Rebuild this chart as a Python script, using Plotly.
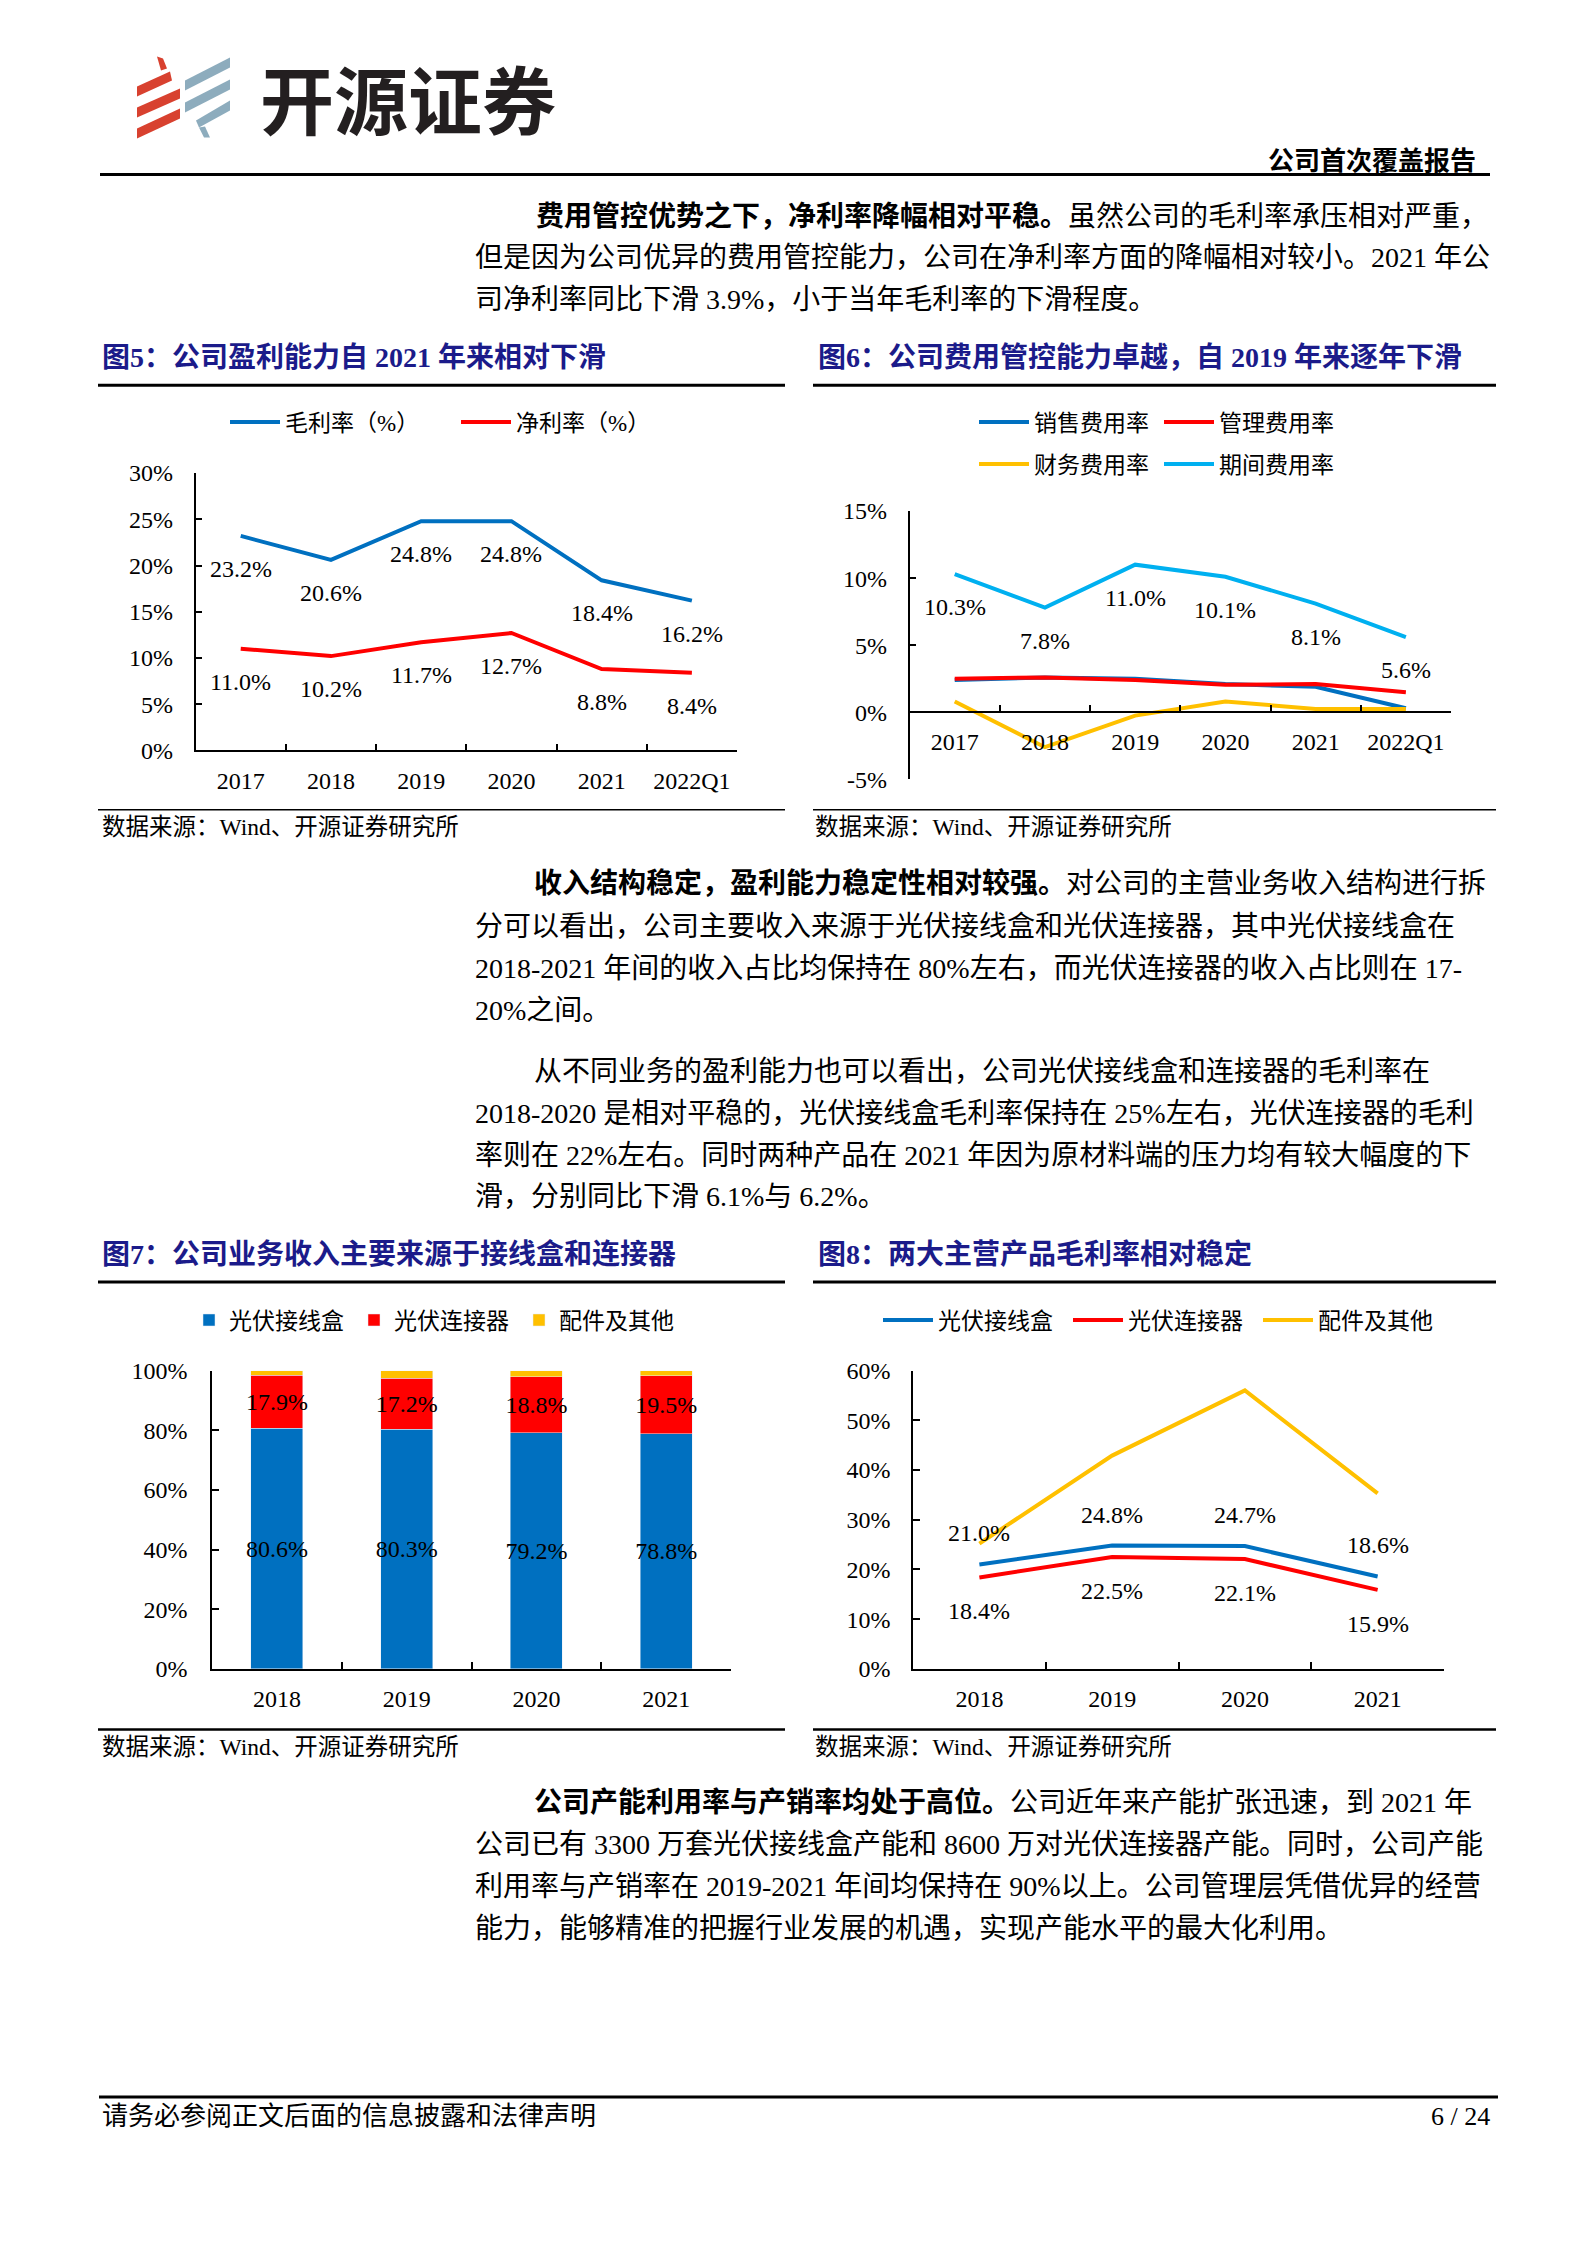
import plotly.graph_objects as go

W, H = 1587, 2245


def fx(px):
    return px / W


def fy(py):
    # page pixel (from top) -> paper fraction, with a small calibration
    py = (py - 13.4) / 0.9896
    return 1 - py / H


SERIF = "Liberation Serif, Noto Sans CJK SC, serif"
CJK = "Noto Sans CJK SC"
NAVY = "#1B1B8A"
BLUE = "#0070C0"
RED = "#FF0000"
YELLOW = "#FFC000"
LBLUE = "#00B0F0"

# ---------------- data ----------------
years_a = ["2017", "2018", "2019", "2020", "2021", "2022Q1"]
gross_margin = [23.2, 20.6, 24.8, 24.8, 18.4, 16.2]
net_margin = [11.0, 10.2, 11.7, 12.7, 8.8, 8.4]

selling_rate = [2.4, 2.6, 2.5, 2.1, 1.9, 0.3]
admin_rate = [2.5, 2.6, 2.4, 2.05, 2.1, 1.5]
finance_rate = [0.8, -2.6, -0.25, 0.8, 0.25, 0.25]
period_rate = [10.3, 7.8, 11.0, 10.1, 8.1, 5.6]
rate_ticks = [-5, 0, 5, 10, 15]
rate_ticklabels = ["-5%", "0%", "5%", "10%", "15%"]

years_b = ["2018", "2019", "2020", "2021"]
share_jbox = [80.6, 80.3, 79.2, 78.8]
share_conn = [17.9, 17.2, 18.8, 19.5]
share_other = [1.5, 2.5, 2.0, 1.7]

gm_jbox = [21.0, 24.8, 24.7, 18.6]
gm_conn = [18.4, 22.5, 22.1, 15.9]
gm_other = [25.2, 42.9, 56.0, 35.3]

fig = go.Figure()

# ---------------- chart 5 ----------------
fig.add_trace(go.Scatter(x=years_a, y=gross_margin, mode="lines", name="毛利率（%）",
                         line=dict(color=BLUE, width=4), xaxis="x", yaxis="y", legend="legend"))
fig.add_trace(go.Scatter(x=years_a, y=net_margin, mode="lines", name="净利率（%）",
                         line=dict(color=RED, width=4), xaxis="x", yaxis="y", legend="legend"))

# ---------------- chart 6 ----------------
fig.add_trace(go.Scatter(x=years_a, y=selling_rate, mode="lines", name="销售费用率",
                         line=dict(color=BLUE, width=4), xaxis="x2", yaxis="y2", legend="legend2"))
fig.add_trace(go.Scatter(x=years_a, y=admin_rate, mode="lines", name="管理费用率",
                         line=dict(color=RED, width=4), xaxis="x2", yaxis="y2", legend="legend2"))
fig.add_trace(go.Scatter(x=years_a, y=finance_rate, mode="lines", name="财务费用率",
                         line=dict(color=YELLOW, width=4), xaxis="x2", yaxis="y2", legend="legend3"))
fig.add_trace(go.Scatter(x=years_a, y=period_rate, mode="lines", name="期间费用率",
                         line=dict(color=LBLUE, width=4), xaxis="x2", yaxis="y2", legend="legend3"))

# ---------------- chart 7 ----------------
bar_font = dict(family=SERIF, size=24, color="black")
fig.add_trace(go.Bar(x=years_b, y=share_jbox, name="光伏接线盒", marker_color=BLUE, width=0.4,
                     text=[f"{v:.1f}%" for v in share_jbox], textposition="inside", textangle=0,
                     insidetextanchor="middle", textfont=bar_font, constraintext="none",
                     xaxis="x3", yaxis="y3", legend="legend4"))
fig.add_trace(go.Bar(x=years_b, y=share_conn, name="光伏连接器", marker_color=RED, width=0.4,
                     text=[f"{v:.1f}%" for v in share_conn], textposition="inside", textangle=0,
                     insidetextanchor="middle", textfont=bar_font, constraintext="none",
                     xaxis="x3", yaxis="y3", legend="legend4"))
fig.add_trace(go.Bar(x=years_b, y=share_other, name="配件及其他", marker_color=YELLOW, width=0.4,
                     textposition="none", xaxis="x3", yaxis="y3", legend="legend4"))

# ---------------- chart 8 ----------------
fig.add_trace(go.Scatter(x=years_b, y=gm_jbox, mode="lines", name="光伏接线盒",
                         line=dict(color=BLUE, width=4), xaxis="x4", yaxis="y4", legend="legend5"))
fig.add_trace(go.Scatter(x=years_b, y=gm_conn, mode="lines", name="光伏连接器",
                         line=dict(color=RED, width=4), xaxis="x4", yaxis="y4", legend="legend5"))
fig.add_trace(go.Scatter(x=years_b, y=gm_other, mode="lines", name="配件及其他",
                         line=dict(color=YELLOW, width=4), xaxis="x4", yaxis="y4", legend="legend5"))

# ---------------- axes ----------------
tick_font = dict(family=SERIF, size=24, color="black")
common = dict(showline=True, linecolor="black", linewidth=1.5, showgrid=False, zeroline=False,
              ticks="inside", ticklen=7, tickwidth=1.5, tickcolor="black", tickfont=tick_font,
              fixedrange=True)


def xcat(n, dom, anchor, **kw):
    d = dict(common)
    d.update(type="category", range=[-0.5, n - 0.5], tickson="boundaries",
             domain=[fx(dom[0]), fx(dom[1])], anchor=anchor, ticklabelstandoff=8)
    d.update(kw)
    return d


def ylin(rng, dt, dom, anchor, standoff, **kw):
    d = dict(common)
    d.update(range=rng, dtick=dt, ticksuffix="%", domain=[fy(dom[1]), fy(dom[0])],
             anchor=anchor, ticklabelstandoff=standoff)
    d.update(kw)
    return d


dom5x, dom5y = (195.6, 737), (474, 751.7)
dom6x, dom6y = (909.6, 1451), (512, 780.7)
dom7x, dom7y = (212, 731), (1372.6, 1671.3)
dom8x, dom8y = (913, 1444), (1372.6, 1671.3)

y6_range = [-5, 15]
y6_bottom, y6_top = fy(dom6y[1]), fy(dom6y[0])
x6_pos = y6_bottom + (0 - y6_range[0]) / (y6_range[1] - y6_range[0]) * (y6_top - y6_bottom)

fig.update_layout(
    xaxis=xcat(len(years_a), dom5x, "y"),
    yaxis=ylin([0, 30], 5, dom5y, "x", 16),
    xaxis2=xcat(len(years_a), dom6x, "free", position=x6_pos),
    yaxis2=ylin(y6_range, 5, dom6y, "x2", 16, tickmode="array", tickvals=rate_ticks,
                ticktext=rate_ticklabels, ticksuffix=""),
    xaxis3=xcat(len(years_b), dom7x, "y3"),
    yaxis3=ylin([0, 100], 20, dom7y, "x3", 18),
    xaxis4=xcat(len(years_b), dom8x, "y4"),
    yaxis4=ylin([0, 60], 10, dom8y, "x4", 16),
)

# ---------------- data labels ----------------
annotations = []
lab_font = dict(family=SERIF, size=24, color="black")


def add_labels(ys, xr, yr, shift):
    # x given as the category index on the category axis
    for i, yv in enumerate(ys):
        annotations.append(dict(x=i, y=yv, xref=xr, yref=yr, text=f"{yv:.1f}%",
                                showarrow=False, yshift=shift, font=lab_font))


add_labels(gross_margin, "x", "y", -33)
add_labels(net_margin, "x", "y", -33)
add_labels(period_rate, "x2", "y2", -33)
add_labels(gm_jbox, "x4", "y4", 31)
add_labels(gm_conn, "x4", "y4", -34)

# ---------------- legends ----------------
leg_font = dict(family=SERIF, size=23, color="black")


def legend(xp, yp, ew, iw=30):
    return dict(x=fx(xp), y=fy(yp), xref="paper", yref="paper", xanchor="left", yanchor="middle",
                orientation="h", font=leg_font, bgcolor="rgba(0,0,0,0)", entrywidth=ew,
                entrywidthmode="pixels", traceorder="normal", itemwidth=iw,
                itemclick=False, itemdoubleclick=False)


fig.update_layout(
    legend=legend(225, 423, 166, 50),
    legend2=legend(974, 423, 120, 50),
    legend3=legend(974, 465, 120, 50),
    legend4=legend(189, 1322, 120),
    legend5=legend(878, 1322, 125, 50),
)

# ---------------- page text ----------------
body_font = dict(family=SERIF, size=28, color="black")


def text(xp, yp, s, font, anchor="left"):
    annotations.append(dict(x=fx(xp), y=fy(yp), xref="paper", yref="paper", text=s,
                            showarrow=False, xanchor=anchor, yanchor="middle", font=font))


# logo & header
text(408, 97, "<b>开源证券</b>", dict(family=CJK, size=74, color="#231F20"), "center")
text(1478, 162, "<b>公司首次覆盖报告</b>", dict(family=SERIF, size=26, color="black"), "right")

paragraphs = [
    (217, 534, "<b>费用管控优势之下，净利率降幅相对平稳。</b>虽然公司的毛利率承压相对严重，"),
    (258, 473, "但是因为公司优异的费用管控能力，公司在净利率方面的降幅相对较小。2021 年公"),
    (300, 473, "司净利率同比下滑 3.9%，小于当年毛利率的下滑程度。"),
    (885, 532, "<b>收入结构稳定，盈利能力稳定性相对较强。</b>对公司的主营业务收入结构进行拆"),
    (928, 473, "分可以看出，公司主要收入来源于光伏接线盒和光伏连接器，其中光伏接线盒在"),
    (970, 473, "2018-2021 年间的收入占比均保持在 80%左右，而光伏连接器的收入占比则在 17-"),
    (1012, 473, "20%之间。"),
    (1073, 532, "从不同业务的盈利能力也可以看出，公司光伏接线盒和连接器的毛利率在"),
    (1115, 473, "2018-2020 是相对平稳的，光伏接线盒毛利率保持在 25%左右，光伏连接器的毛利"),
    (1157, 473, "率则在 22%左右。同时两种产品在 2021 年因为原材料端的压力均有较大幅度的下"),
    (1198, 473, "滑，分别同比下滑 6.1%与 6.2%。"),
    (1805, 532, "<b>公司产能利用率与产销率均处于高位。</b>公司近年来产能扩张迅速，到 2021 年"),
    (1847, 473, "公司已有 3300 万套光伏接线盒产能和 8600 万对光伏连接器产能。同时，公司产能"),
    (1889, 473, "利用率与产销率在 2019-2021 年间均保持在 90%以上。公司管理层凭借优异的经营"),
    (1931, 473, "能力，能够精准的把握行业发展的机遇，实现产能水平的最大化利用。"),
]
for yp, xp, s in paragraphs:
    text(xp, yp, s, body_font)

title_font = dict(family=SERIF, size=28, color=NAVY)
text(100, 358, "<b>图5：公司盈利能力自 2021 年来相对下滑</b>", title_font)
text(816, 358, "<b>图6：公司费用管控能力卓越，自 2019 年来逐年下滑</b>", title_font)
text(100, 1256, "<b>图7：公司业务收入主要来源于接线盒和连接器</b>", title_font)
text(816, 1256, "<b>图8：两大主营产品毛利率相对稳定</b>", title_font)

src_font = dict(family=SERIF, size=23.5, color="black")
src = "数据来源：Wind、开源证券研究所"
text(100, 828, src, src_font)
text(813, 828, src, src_font)
text(100, 1749, src, src_font)
text(813, 1749, src, src_font)

foot_font = dict(family=SERIF, size=26, color="black")
text(100, 2119, "请务必参阅正文后面的信息披露和法律声明", foot_font)
text(1492, 2119, "6 / 24", foot_font, "right")

fig.update_layout(annotations=annotations)

# ---------------- shapes ----------------
shapes = []


def hline(x0, x1, yp, w):
    shapes.append(dict(type="line", xref="paper", yref="paper", x0=fx(x0), x1=fx(x1),
                       y0=fy(yp), y1=fy(yp), line=dict(color="black", width=w)))


hline(100, 1490, 175, 3)
hline(98, 785, 386, 3)
hline(813, 1496, 386, 3)
hline(98, 785, 811, 1.5)
hline(813, 1496, 811, 1.5)
hline(98, 785, 1284, 3)
hline(813, 1496, 1284, 3)
hline(98, 785, 1732, 2.5)
hline(813, 1496, 1732, 2.5)
hline(99, 1498, 2100, 3)

red_polys = [
    [(157, 57), (163, 59), (167, 69), (161, 71)],
    [(137, 87), (170, 72), (172, 81), (137, 97)],
    [(137, 108), (180, 89), (180, 99), (137, 118)],
    [(137, 129), (180, 109), (180, 119), (137, 139)],
]
blue_polys = [
    [(185, 81), (230, 58), (230, 68), (185, 91)],
    [(185, 103), (230, 80), (230, 90), (185, 113)],
    [(196, 121), (230, 101), (230, 111), (199, 128)],
    [(199, 128), (205, 127), (210, 138), (204, 138)],
]


def poly_path(pts):
    return "M " + " L ".join(f"{fx(a):.5f},{fy(b):.5f}" for a, b in pts) + " Z"


for p in red_polys:
    shapes.append(dict(type="path", xref="paper", yref="paper", path=poly_path(p),
                       fillcolor="#D8412F", line=dict(width=0)))
for p in blue_polys:
    shapes.append(dict(type="path", xref="paper", yref="paper", path=poly_path(p),
                       fillcolor="#8DACBD", line=dict(width=0)))

fig.update_layout(
    shapes=shapes,
    width=W, height=H, autosize=False,
    margin=dict(l=0, r=0, t=0, b=0, pad=0),
    paper_bgcolor="white", plot_bgcolor="white",
    barmode="stack",
    showlegend=True,
    font=dict(family=SERIF, color="black"),
)

fig.write_html("out.html", config={"displayModeBar": False},
               post_script="document.body.style.margin='0';")
